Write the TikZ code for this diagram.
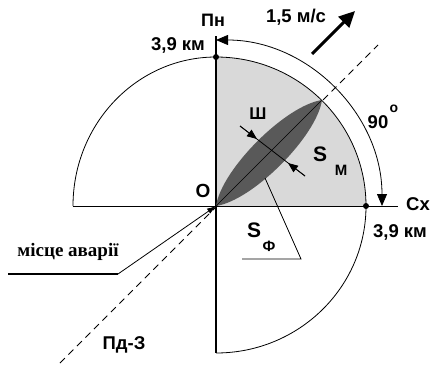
\documentclass[tikz,border=0pt]{standalone}
\usepackage{fontspec}
\setmainfont{Liberation Sans}
\newfontfamily\serifbold{Liberation Serif}
\usetikzlibrary{arrows.meta}
\tikzset{
  lbl/.style={font=\fontsize{18.5}{20}\selectfont\bfseries, inner sep=0pt},
  bigs/.style={font=\fontsize{21}{22}\selectfont\bfseries, inner sep=0pt},
  subs/.style={font=\fontsize{15}{16}\selectfont\bfseries, inner sep=0pt},
  thinline/.style={line width=0.8pt},
  axisline/.style={line width=1.1pt},
  tip/.style={-{Triangle[length=10pt,width=8pt]}},
  dot/.style={circle, fill=black, inner sep=0pt, minimum size=6pt}
}
\begin{document}
\begin{tikzpicture}[x=1pt,y=-1pt]
\useasboundingbox (0,0) rectangle (433,367);
\coordinate (O) at (216,206);
\coordinate (N) at (216,57);
\coordinate (E) at (366,206);
\coordinate (T) at (322,100);
% shaded quadrant
\fill[black!15] (O) -- (N) arc[start angle=-90,end angle=0,x radius=150,y radius=149] -- cycle;
% quarter arcs
\draw[thinline] (N) arc[start angle=-90,end angle=-180,x radius=143,y radius=149] coordinate (W);
\draw[thinline] (N) arc[start angle=-90,end angle=0,x radius=150,y radius=149];
\draw[thinline] (E) arc[start angle=0,end angle=90,x radius=150,y radius=147] coordinate (S);
% axes
\coordinate (Ntop) at (216,36);
\coordinate (Eend) at (398,206);
\draw[thinline] (W) -- (Eend);
\draw[axisline] (Ntop) -- (S);
% dashed SW-NE line
\coordinate (DL) at (60,363);
\coordinate (DU) at (378,45);
\draw[thinline, dash pattern=on 7pt off 5pt] (DL) -- (DU);
% lens
\fill[black!65] (O) .. controls (252.8,200.4) and (316.5,136.7) .. (T)
  .. controls (285.3,105.5) and (221.6,169.2) .. (O) -- cycle;
\draw[line width=0.6pt] (O) -- (T);
% dots
\node[dot] (dN) at (N) {};
\node[dot] (dE) at (E) {};
% outer arc with arrows
\coordinate (AS) at (216,40);
\draw[thinline, {Triangle[length=12pt,width=10pt]}-{Triangle[length=12pt,width=10pt]}]
  (AS) arc[start angle=-90,end angle=0,radius=166] coordinate (AE);
% width arrows
\coordinate (A1) at (240,126);
\coordinate (A2) at (305,176);
\coordinate (E1) at (257,139);
\coordinate (E2) at (288,163);
\draw[thinline] (A1) -- (A2);
\draw[thinline, tip] (A1) -- (E1);
\draw[thinline, tip] (A2) -- (E2);
% S_f leader
\coordinate (F1) at (265,178);
\coordinate (F2) at (301,259);
\coordinate (F3) at (242,259);
\draw[thinline] (F1) -- (F2) -- (F3);
% accident leader
\coordinate (L0) at (8,274);
\coordinate (L1) at (118,274);
\draw[line width=2.4pt] (L0) -- (L1);
\draw[thinline, -{Latex[length=9pt,width=6pt]}] (L1) -- (O);
% wind arrow
\coordinate (W0) at (312,54);
\coordinate (W1) at (355,11);
\draw[line width=3pt, -{Triangle[length=16pt,width=15pt]}] (W0) -- (W1);
% labels
\node[lbl,font=\fontsize{18}{20}\selectfont\bfseries] (pn) at (213,20) {Пн};
\node[lbl] (kmN) at (178,45) {3,9 км};
\node[lbl] (wind) at (296,17) {1,5 м/с};
\node[lbl] (deg) at (378,122) {90};
\node[subs,font=\fontsize{14}{15}\selectfont\bfseries] (degsup) at (394,109) {o};
\node[lbl,font=\fontsize{17}{18}\selectfont\bfseries] (sh) at (258,114) {Ш};
\node[bigs] (sm) at (320,154) {S};
\node[subs] (smsub) at (341,170) {М};
\node[bigs,font=\fontsize{19}{20}\selectfont\bfseries] (o) at (203,191) {О};
\node[lbl] (cx) at (418,204) {Сх};
\node[lbl] (kmE) at (400,232) {3,9 км};
\node[bigs] (sf) at (254,230) {S};
\node[subs] (sfsub) at (269,246) {Ф};
\node[inner sep=0pt, font=\serifbold\fontsize{19}{22}\selectfont\bfseries] (acc) at (68,252) {місце аварії};
\node[lbl] (pdz) at (124,345) {Пд-З};
\end{tikzpicture}
\end{document}
